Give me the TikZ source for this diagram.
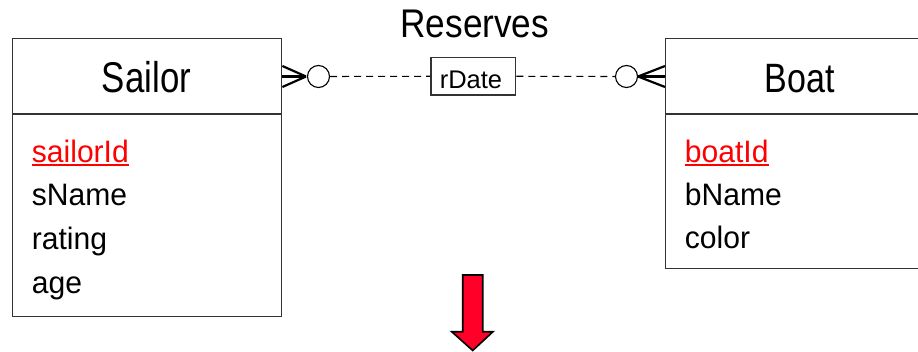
\documentclass[tikz,border=0pt]{standalone}
\usepackage{fontspec}
\usepackage{graphicx}
\setmainfont{Liberation Sans}
\newcommand\fsz[1]{\fontsize{#1}{#1}\selectfont}
\newcommand\sx[2]{\scalebox{#1}[1]{#2}}
\definecolor{boxline}{HTML}{333333}
\definecolor{arrowred}{RGB}{255,0,40}
\tikzset{
  entity/.style={draw=boxline, line width=1.4pt, rectangle, anchor=north west, inner sep=0pt},
  divider/.style={draw=boxline, line width=1.4pt},
  attr/.style={anchor=base west, inner sep=0pt, font=\fsz{31}},
  keyattr/.style={attr, text=red},
  title/.style={anchor=base, inner sep=0pt},
  relbox/.style={draw=boxline, line width=1.3pt, rectangle, minimum width=84.7pt, minimum height=37.7pt, inner sep=0pt},
  optcirc/.style={draw=black, line width=1.1pt, circle, minimum size=22pt, inner sep=0pt},
  relline/.style={draw=black, line width=1.1pt, dash pattern=on 7pt off 5pt},
  crow/.style={draw=black, line width=2.2pt},
}
\begin{document}
\begin{tikzpicture}[x=1pt,y=-1pt]
\useasboundingbox (0,0) rectangle (918,351);
\clip (0,0) rectangle (918,351);
\fill[white] (0,0) rectangle (918,351);

% entities
\node[entity, minimum width=269pt, minimum height=278pt] (sailor) at (12,38) {};
\node[entity, minimum width=270pt, minimum height=230pt] (boat) at (665,38) {};
\coordinate (sdiv) at (12,114);
\coordinate (bdiv) at (665,114);
\draw[divider] (sdiv) -- (sdiv -| sailor.east);
\draw[divider] (bdiv) -- (bdiv -| boat.east);

% titles
\node[title, font=\fsz{43}] (sailortitle) at (146.5,92.7) {\sx{0.81}{Sailor}};
\node[title, font=\fsz{41}] (boattitle) at (799.7,92.7) {\sx{0.83}{Boat}};
\node[title, font=\fsz{40}] (reserves) at (474.8,37) {\sx{0.88}{Reserves}};

% attributes
\node[keyattr] (sid) at (31.7,162) {\sx{0.97}{sailorId}};
\draw[red, line width=1.4pt] ([yshift=-3pt]sid.base west) -- ([yshift=-3pt]sid.base east);
\node[attr] (sname) at (31.7,205) {\sx{0.97}{sName}};
\node[attr] (rating) at (31.7,249) {\sx{0.97}{rating}};
\node[attr] (age) at (31.7,293) {\sx{0.97}{age}};

\node[keyattr] (bid) at (684.7,162) {\sx{0.97}{boatId}};
\draw[red, line width=1.4pt] ([yshift=-3pt]bid.base west) -- ([yshift=-3pt]bid.base east);
\node[attr] (bname) at (684.7,205) {\sx{0.97}{bName}};
\node[attr] (color) at (684.7,248.3) {\sx{0.97}{color}};

% relationship
\node[relbox] (rdate) at (473.3,76.2) {};
\node[title, font=\fsz{25.5}] (rdatetext) at (471,88.3) {rDate};
\node[optcirc] (c1) at (318.5,76.5) {};
\node[optcirc] (c2) at (626.5,76.5) {};
\draw[relline] (c1) -- (rdate);
\draw[relline] (rdate) -- (c2);

% crow's feet
\coordinate (f1) at (306,76.5);
\coordinate (f2) at (638,76.5);
\draw[crow] (f1) -- ([yshift=10.5pt]sailor.east |- f1);
\draw[crow] (f1) -- (sailor.east |- f1);
\draw[crow] (f1) -- ([yshift=-10.5pt]sailor.east |- f1);
\draw[crow] (f2) -- ([yshift=10.5pt]boat.west |- f2);
\draw[crow] (f2) -- (boat.west |- f2);
\draw[crow] (f2) -- ([yshift=-10.5pt]boat.west |- f2);

% red arrow
\draw[fill=arrowred, draw=black, line width=1.6pt, line join=miter]
  (462.7,275) -- (482.7,275) -- (482.7,331.7) -- (493,331.7) -- (472.7,350.5)
  -- (451.7,331.7) -- (462.7,331.7) -- cycle;
\end{tikzpicture}
\end{document}
